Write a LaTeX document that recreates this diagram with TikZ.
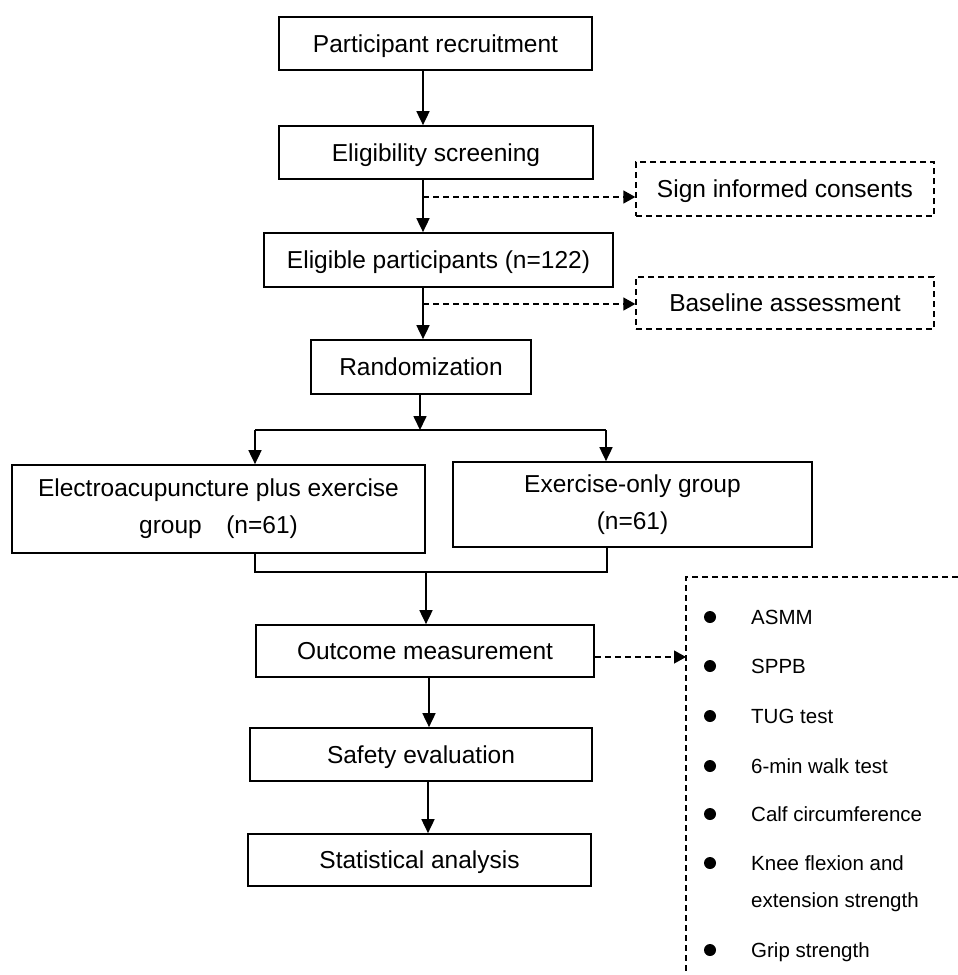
\documentclass[tikz,border=0pt]{standalone}
\usepackage{fontspec}
\setmainfont{Liberation Sans}
\usetikzlibrary{arrows.meta}
\begin{document}
\begin{tikzpicture}[x=1pt,y=-1pt,
  box/.style={draw, line width=1.7pt, inner sep=0pt, align=center,
    font=\fontsize{24.5}{37}\selectfont},
  one/.style={text height=17.5pt, text depth=0pt},
  dbox/.style={box, one, line width=1.3pt, dash pattern=on 6pt off 4pt},
  ln/.style={line width=1.7pt},
  arr/.style={line width=1.7pt, -{Triangle[length=14pt,width=13pt]}},
  darr/.style={line width=1.3pt, dash pattern=on 6pt off 4pt, -{Triangle[length=12pt,width=13pt]}},
  bul/.style={circle, fill=black, inner sep=0pt, minimum size=12pt},
  itm/.style={anchor=west, inner sep=0pt, text height=14.8pt, text depth=0pt,
    font=\fontsize{20.5}{24}\selectfont}
]
\useasboundingbox[fill=white] (0,0) rectangle (958,975);

% main boxes
\node[box, one, minimum width=313pt, minimum height=53pt] (b1) at (435.5,43.5) {Participant recruitment};
\node[box, one, minimum width=314pt, minimum height=53pt] (b2) at (436,152.5) {Eligibility screening};
\node[box, one, minimum width=349pt, minimum height=54pt] (b3) at (438.5,260) {Eligible participants (n=122)};
\node[box, one, minimum width=220pt, minimum height=54pt] (b4) at (421,367) {Randomization};
\node[box, minimum width=413pt, minimum height=88pt] (L) at (218.5,509) {Electroacupuncture plus exercise\\group\quad(n=61)};
\node[box, minimum width=359pt, minimum height=85pt] (R) at (632.5,504.5) {Exercise-only group\\(n=61)};
\node[box, one, minimum width=338pt, minimum height=52pt] (O) at (425,651) {Outcome measurement};
\node[box, one, minimum width=342pt, minimum height=53pt] (S) at (421,754.5) {Safety evaluation};
\node[box, one, minimum width=343pt, minimum height=52pt] (T) at (419.5,860) {Statistical analysis};

% side boxes
\node[dbox, minimum width=298pt, minimum height=54pt] (c1) at (785,189) {Sign informed consents};
\node[dbox, minimum width=298pt, minimum height=52pt] (c2) at (785,303) {Baseline assessment};

% coordinates
\coordinate (ax) at (423,0);
\coordinate (d1) at (423,197);
\coordinate (d2) at (423,304);
\coordinate (sp) at (420,430);
\coordinate (spL) at (255,430);
\coordinate (spR) at (606,430);
\coordinate (jL) at (255,572);
\coordinate (jR) at (607,572);
\coordinate (jM) at (426,572);
\coordinate (ox) at (429,0);
\coordinate (sx) at (428,0);
\coordinate (lst) at (686,657);

% vertical flow
\draw[arr] (b1.south -| ax) -- (b2.north -| ax);
\draw[arr] (b2.south -| ax) -- (b3.north -| ax);
\draw[arr] (b3.south -| ax) -- (b4.north -| ax);
\draw[darr] (d1) -- (c1.west |- d1);
\draw[darr] (d2) -- (c2.west |- d2);

% split
\draw[arr] (b4.south -| sp) -- (sp);
\draw[ln] (spL) -- (spR);
\draw[arr] (spL) -- (L.north -| spL);
\draw[arr] (spR) -- (R.north -| spR);

% join
\draw[ln] (L.south -| jL) -- (jL) -- (jR) -- (R.south -| jR);
\draw[arr] (jM) -- (O.north -| jM);
\draw[arr] (O.south -| ox) -- (S.north -| ox);
\draw[arr] (S.south -| sx) -- (T.north -| sx);

% outcome list
\draw[line width=1.3pt, dash pattern=on 6pt off 4pt] (958,577) -- (686,577) -- (686,975);
\draw[darr] (O.east |- lst) -- (lst);

\node[bul] (u1) at (710,617) {};
\node[bul] (u2) at (710,666) {};
\node[bul] (u3) at (710,716) {};
\node[bul] (u4) at (710,766) {};
\node[bul] (u5) at (710,814) {};
\node[bul] (u6) at (710,863) {};
\node[bul] (u7) at (710,950) {};

\node[itm] (t1) at (751,617) {ASMM};
\node[itm] (t2) at (751,666) {SPPB};
\node[itm] (t3) at (751,716) {TUG test};
\node[itm] (t4) at (751,766) {6-min walk test};
\node[itm] (t5) at (751,814) {Calf circumference};
\node[itm] (t6) at (751,863) {Knee flexion and};
\node[itm] (t6b) at (751,900) {extension strength};
\node[itm] (t7) at (751,950) {Grip strength};
\end{tikzpicture}
\end{document}
